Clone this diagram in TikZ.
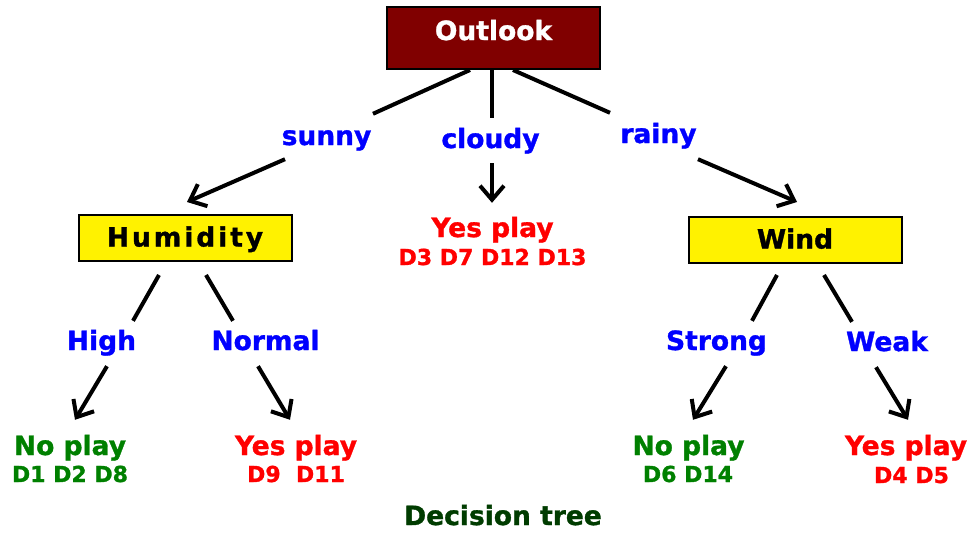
\documentclass[tikz,border=0pt]{standalone}
\usepackage{fontspec}
\setmainfont{DejaVu Sans}[BoldFeatures={FakeBold=1.2}]
\usetikzlibrary{arrows.meta}

\definecolor{outlookred}{RGB}{128,0,0}
\definecolor{leafgreen}{RGB}{0,128,0}
\definecolor{captiongreen}{RGB}{0,60,0}

\begin{document}
\begin{tikzpicture}[x=1pt,y=1pt,
  box/.style={draw=black,line width=2pt,minimum width=213pt,minimum height=46pt,inner sep=0pt,
    font=\fontsize{26.5pt}{30pt}\selectfont\bfseries,text height=19pt,text depth=2pt},
  branch/.style={anchor=base,inner sep=0pt,text=blue,text height=19pt,text depth=6pt,
    font=\fontsize{26.5pt}{30pt}\selectfont\bfseries},
  leaf/.style={anchor=base,inner sep=0pt,text height=19pt,text depth=6pt,
    font=\fontsize{26.5pt}{30pt}\selectfont\bfseries},
  days/.style={anchor=base,inner sep=0pt,font=\fontsize{22pt}{26pt}\selectfont\bfseries},
  edge/.style={line width=4pt},
  arr/.style={line width=4pt,-{Straight Barb[length=14pt,width=24pt]}}]
\useasboundingbox (0,0) rectangle (978,-536);

% root
\node [box,fill=outlookred,text=white,minimum height=62pt,text height=12pt,text depth=8pt] (outlook) at (493.5,-38) {Outlook};

% first level
\node [branch] (sunny) at (326.5,-145) {sunny};
\node [branch] (cloudy) at (490.5,-148) {cloudy};
\node [branch] (rainy) at (658.5,-143) {rainy};

\draw [edge] ([xshift=-23.5pt]outlook.south) -- ([shift={(46.5pt,12pt)}]sunny.north);
\draw [edge] ([xshift=-1.5pt]outlook.south) -- ([shift={(1.5pt,11pt)}]cloudy.north);
\draw [edge] ([xshift=19.5pt]outlook.south) -- ([shift={(-48.5pt,11pt)}]rainy.north);

\node [box,fill=yellow] (humidity) at (185,-238) {\addfontfeature{LetterSpace=11}Humidity};
\node [box,fill=yellow] (wind) at (795,-240) {Wind};
\node [leaf,text=red] (yes0) at (492.5,-237) {Yes play};
\node [days,text=red] (ids0) at (492.5,-265) {D3 D7 D12 D13};

\draw [arr] ([shift={(-41.5pt,-8pt)}]sunny.south) -- ([shift={(2pt,12pt)}]humidity.north);
\draw [arr] ([shift={(1.5pt,-9pt)}]cloudy.south) -- ([shift={(-0.5pt,15pt)}]yes0.north);
\draw [arr] ([shift={(39.5pt,-10pt)}]rainy.south) -- ([shift={(2pt,14pt)}]wind.north);

% second level
\node [branch] (high) at (101.5,-350) {High};
\node [branch] (normal) at (265.5,-350) {Normal};
\node [branch] (strong) at (716.5,-350) {Strong};
\node [branch] (weak) at (887,-351) {Weak};

\draw [edge] ([shift={(-26pt,-13pt)}]humidity.south) -- ([shift={(31.5pt,10pt)}]high.north);
\draw [edge] ([shift={(21pt,-13pt)}]humidity.south) -- ([shift={(-32.5pt,10pt)}]normal.north);
\draw [edge] ([shift={(-18pt,-11pt)}]wind.south) -- ([shift={(35.5pt,10pt)}]strong.north);
\draw [edge] ([shift={(29pt,-11pt)}]wind.south) -- ([shift={(-35pt,10pt)}]weak.north);

% leaves
\node [leaf,text=leafgreen] (nop1) at (70,-455) {No play};
\node [days,text=leafgreen] (ids1) at (70,-482) {D1 D2 D8};
\node [leaf,text=red] (yes1) at (296,-455) {Yes play};
\node [days,text=red] (ids2) at (296,-482) {D9~~D11};
\node [leaf,text=leafgreen] (nop2) at (688.5,-455) {No play};
\node [days,text=leafgreen] (ids3) at (688,-482) {D6 D14};
\node [leaf,text=red] (yes2) at (906,-455) {Yes play};
\node [days,text=red] (ids4) at (911.5,-483) {D4 D5};

\draw [arr] ([shift={(5.5pt,-10pt)}]high.south) -- ([shift={(5pt,16pt)}]nop1.north);
\draw [arr] ([shift={(-7.5pt,-10pt)}]normal.south) -- ([shift={(-6pt,16pt)}]yes1.north);
\draw [arr] ([shift={(9.5pt,-10pt)}]strong.south) -- ([shift={(4.5pt,16pt)}]nop2.north);
\draw [arr] ([shift={(-11pt,-10pt)}]weak.south) -- ([shift={(2pt,16pt)}]yes2.north);

\node [leaf,text=captiongreen] (caption) at (503,-525) {Decision tree};
\end{tikzpicture}
\end{document}
